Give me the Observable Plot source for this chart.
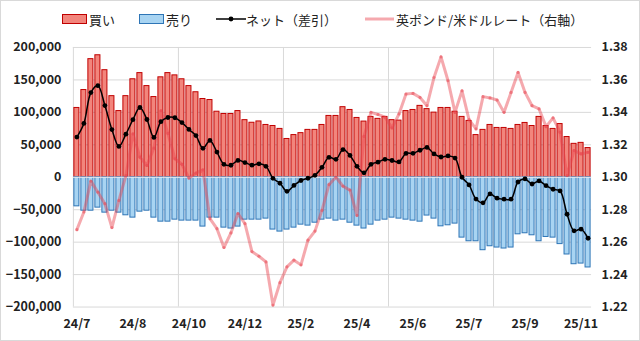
<!DOCTYPE html>
<html><head><meta charset="utf-8">
<script src="https://cdn.jsdelivr.net/npm/d3@7"></script>
<script src="https://cdn.jsdelivr.net/npm/@observablehq/plot@0.6"></script>
<style>
html,body{margin:0;padding:0;background:#fff;}
#wrap{position:relative;width:640px;height:341px;box-sizing:border-box;border:1px solid #d9d9d9;overflow:hidden;font-family:"Noto Sans CJK JP","Noto Sans",sans-serif;}
#legend{position:absolute;left:61px;top:6px;height:24px;display:flex;align-items:center;justify-content:flex-start;font-size:13px;color:#222;white-space:nowrap;}
#legend .item{display:flex;align-items:center;}
#legend .sw{width:25px;height:10px;box-sizing:border-box;margin-right:2px;}
#chart{position:absolute;left:-1px;top:27px;}
</style>
</head><body><div id="wrap"><div id="legend"></div><div id="chart"></div></div>
<script>
// 買い (buy), 売り (sell), ネット (net) — weekly, 74 weeks from 24/7 to 25/11
const buy = [106800,134400,182000,188000,165000,125000,102000,125000,151000,160500,
140500,123600,154000,160500,157000,151000,140500,131000,120600,119000,
101000,97500,97500,102000,88000,84000,86000,80600,79000,74500,
59000,65000,68000,73000,73000,80600,94500,94500,108000,103700,
91400,85800,93000,90000,93000,88000,87300,102000,103700,110000,
105000,99600,106800,106800,101000,93000,86800,65000,73000,80600,
76000,76000,74500,80600,83700,79000,93000,79000,74500,82000,
62000,51500,53000,45000];
const sell = [-44800,-51500,-51500,-46800,-54500,-51500,-54500,-58600,-62200,-53000,
-51500,-62200,-68400,-68400,-65300,-66800,-66800,-66800,-76000,-62200,
-62200,-77600,-79000,-76000,-65300,-65300,-65300,-63700,-80600,-83700,
-80600,-77600,-73000,-74500,-70000,-65300,-63700,-66800,-65300,-70000,
-74500,-79000,-73000,-66800,-65300,-62200,-63700,-65300,-66800,-68400,
-59000,-63700,-75600,-74000,-71400,-93000,-98600,-98600,-112400,-106300,
-108300,-109800,-108300,-87900,-86300,-89400,-98600,-92000,-93000,-103000,
-119000,-134000,-133000,-139000];
const net = [62000,82900,130500,141200,110500,73500,47500,66400,88800,107500,
89000,61400,85600,92100,91700,84200,73700,64200,44600,56800,
38800,19900,18500,26000,22700,18700,20700,16900,-1600,-9200,
-21600,-12600,-5000,-1500,3000,15300,30800,27700,42700,33700,
16900,6800,20000,23200,27700,25800,23600,36700,36900,41600,
46000,35900,31200,32800,29600,0,-11800,-33600,-39400,-25700,
-32300,-33800,-33800,-7300,-2600,-10400,-5600,-13000,-18500,-21000,
-57000,-82500,-80000,-94000];
// 英ポンド/米ドルレート (right axis)
const gbpusd = [1.2677,1.2786,1.2976,1.2908,1.2837,1.2690,1.2857,1.3010,1.3267,1.3124,
1.3073,1.3180,1.3410,1.3270,1.3114,1.3080,1.2995,1.3025,1.3045,1.2745,
1.2683,1.2567,1.2657,1.2776,1.2714,1.2542,1.2513,1.2478,1.2212,1.2350,
1.2448,1.2489,1.2460,1.2612,1.2668,1.2796,1.2955,1.3000,1.2945,1.2921,
1.2765,1.3252,1.3400,1.3387,1.3370,1.3304,1.3390,1.3513,1.3517,1.3492,
1.3441,1.3615,1.3742,1.3595,1.3400,1.3533,1.3355,1.3298,1.3497,1.3489,
1.3476,1.3400,1.3523,1.3646,1.3523,1.3441,1.3421,1.3312,1.3366,1.3277,
1.3011,1.3165,1.3144,1.3154];
const xLabels = ["24/7","24/8","24/10","24/12","25/2","25/4","25/6","25/7","25/9","25/11"];
const xLabelWeeks = [1,9,17,25,33,41,49,57,65,73];
const leftTicks = [-200000,-150000,-100000,-50000,0,50000,100000,150000,200000];
const rightTicks = [1.22,1.24,1.26,1.28,1.30,1.32,1.34,1.36,1.38];
const gridEvery = 15;

// right axis mapping onto left scale
const rBase = 1.30, rFactor = 200000 / 0.08;
const toLeft = v => (v - rBase) * rFactor;

const rows = buy.map((b, k) => ({i: k + 1, buy: b, sell: sell[k], net: net[k], fx: toLeft(gbpusd[k])}));
const n = rows.length;
const vGrid = d3.range(0.5, n + 0.5, gridEvery);
const half = 0.36;

const C = {buy: "#f2857c", buyS: "#c00000", sell: "#a8d4f2", sellS: "#2e75b6", fx: "#e8404c"};

const chart = Plot.plot({
  width: 640, height: 313,
  marginLeft: 73, marginRight: 48, marginTop: 19, marginBottom: 34,
  style: {fontFamily: '"Noto Sans CJK JP","Noto Sans",sans-serif', fontSize: "12.5px", fontWeight: "bold", color: "#222", background: "transparent"},
  x: {domain: [0.5, n + 0.5], label: null},
  y: {domain: [-200000, 200000], label: null},
  marks: [
    Plot.ruleY(leftTicks, {stroke: "#d9d9d9"}),
    Plot.ruleX(vGrid, {stroke: "#d9d9d9"}),
    Plot.rect(rows, {x1: d => d.i - half, x2: d => d.i + half, y1: 0, y2: "buy", fill: C.buy, stroke: C.buyS, strokeWidth: 1}),
    Plot.rect(rows, {x1: d => d.i - half, x2: d => d.i + half, y1: 0, y2: "sell", fill: C.sell, stroke: C.sellS, strokeWidth: 1}),
    Plot.ruleY([0], {stroke: "#f4f4f4", strokeWidth: 1.2}),
    Plot.line(rows, {x: "i", y: "fx", stroke: C.fx, strokeOpacity: 0.45, strokeWidth: 3}),
    Plot.dot(rows, {x: "i", y: "fx", r: 1.6, fill: C.fx, fillOpacity: 0.5}),
    Plot.line(rows, {x: "i", y: "net", stroke: "#000", strokeWidth: 1.5, curve: "catmull-rom"}),
    Plot.dot(rows, {x: "i", y: "net", r: 2.4, fill: "#000"}),
    Plot.axisY({anchor: "left", ticks: leftTicks, tickFormat: d3.format(","), tickSize: 0, tickPadding: 12, label: null}),
    Plot.axisY({anchor: "right", ticks: rightTicks.map(toLeft), tickFormat: d => (rBase + d / rFactor).toFixed(2), tickSize: 0, tickPadding: 10, label: null}),
    Plot.axisX({ticks: xLabelWeeks, tickFormat: w => xLabels[xLabelWeeks.indexOf(w)], tickSize: 0, tickPadding: 12, label: null})
  ]
});
document.getElementById("chart").appendChild(chart);

// legend
const lg = document.getElementById("legend");
function item(swatchHTML, label, gap) {
  const d = document.createElement("div");
  d.className = "item";
  d.style.marginRight = gap + "px";
  d.innerHTML = swatchHTML + "<span>" + label + "</span>";
  lg.appendChild(d);
}
item(`<div class="sw" style="background:${C.buy};border:1px solid ${C.buyS}"></div>`, "買い", 24);
item(`<div class="sw" style="background:${C.sell};border:1px solid ${C.sellS}"></div>`, "売り", 24);
item(`<svg width="30" height="10"><line x1="0" y1="5" x2="30" y2="5" stroke="#000" stroke-width="1.5"/><circle cx="15" cy="5" r="2.4" fill="#000"/></svg>`, "ネット（差引）", 28);
item(`<svg width="29" height="10" style="margin-right:2px"><line x1="0" y1="5" x2="29" y2="5" stroke="${C.fx}" stroke-opacity="0.45" stroke-width="3"/></svg>`, "英ポンド/米ドルレート（右軸）", 0);
</script></body></html>
